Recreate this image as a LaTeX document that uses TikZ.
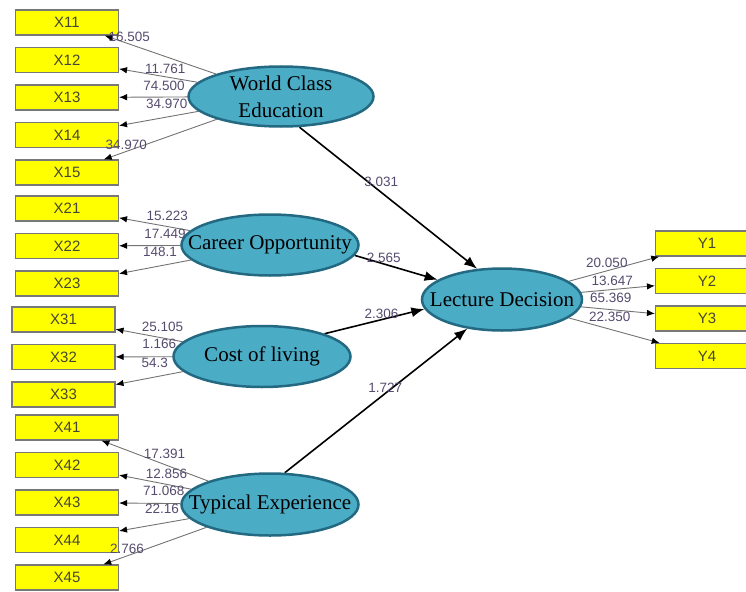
\documentclass[tikz,border=0pt]{standalone}
\usepackage{fontspec}
\setmainfont{Liberation Serif}
\newfontfamily\boxfont{Liberation Sans}
\usetikzlibrary{arrows.meta,positioning,shapes.geometric,backgrounds}

\definecolor{latentfill}{RGB}{75,172,198}
\definecolor{latentdraw}{RGB}{35,105,130}
\definecolor{itemfill}{RGB}{255,255,0}
\definecolor{itemdraw}{RGB}{120,120,120}
\definecolor{itemtext}{RGB}{70,70,55}
\definecolor{linkgray}{RGB}{115,115,115}
\definecolor{valtext}{RGB}{85,75,110}

\begin{document}
\begin{tikzpicture}[x=1pt,y=-1pt,>={Latex[length=8pt,width=6.5pt,black]},node distance=37.5pt,
item/.style={rectangle,draw=itemdraw,line width=1.1pt,fill=itemfill,minimum width=103pt,minimum height=25pt,inner sep=0pt,font=\boxfont\fontsize{15}{17}\selectfont,text=itemtext},
latent/.style={ellipse,draw=latentdraw,line width=2.5pt,fill=latentfill,inner xsep=-40pt,inner ysep=-3pt,minimum width=177pt,minimum height=61pt,font=\fontsize{21}{27}\selectfont,align=center},
outer/.style={->,draw=linkgray,line width=0.9pt},
inner/.style={->,>={Latex[length=13pt,width=10pt]},line width=1.6pt},
val/.style={font=\boxfont\fontsize{13.5}{15}\selectfont,text=valtext,inner sep=0pt}]

\useasboundingbox (0,0) rectangle (746,591);
\clip (0,0) rectangle (746,591);

\node[latent,minimum width=185pt,minimum height=60pt] (wce) at (281,96.5) {World Class\\Education};
\node[latent] (co) at (270,245) {Career Opportunity};
\node[latent] (col) at (262,356.5) {Cost of living};
\node[latent,minimum height=62pt] (te) at (270,504.5) {Typical Experience};
\node[latent,minimum width=160pt,minimum height=62pt] (ld) at (502,299.5) {Lecture Decision};

\begin{pgfonlayer}{background}
\node[item] (x11) at (67,22.5) {X11};
 \node[item] (x12) [below of=x11] {X12};
 \node[item] (x13) [below of=x12] {X13};
 \node[item] (x14) [below of=x13] {X14};
 \node[item] (x15) [below of=x14] {X15};

\node[item] (x21) at (67,208.5) {X21};
 \node[item] (x22) [below of=x21] {X22};
 \node[item] (x23) [below of=x22] {X23};

\node[item] (x31) at (63.5,319.5) {X31};
 \node[item] (x32) [below of=x31] {X32};
 \node[item] (x33) [below of=x32] {X33};

\node[item] (x41) at (67,427.5) {X41};
 \node[item] (x42) [below of=x41] {X42};
 \node[item] (x43) [below of=x42] {X43};
 \node[item] (x44) [below of=x43] {X44};
 \node[item] (x45) [below of=x44] {X45};

\node[item] (y1) at (707,243.5) {Y1};
 \node[item] (y2) [below of=y1] {Y2};
 \node[item] (y3) [below of=y2] {Y3};
 \node[item] (y4) [below of=y3] {Y4};

\path[outer] (wce) edge node[val,pos=.78,yshift=7pt] {16.505} (x11)
      (wce) edge node[val,pos=.41,yshift=7.5pt] {11.761} (x12)
      (wce) edge node[val,pos=.34,yshift=11.5pt] {74.500} (x13)
      (wce) edge node[val,pos=.40,yshift=13pt] {34.970} (x14)
      (wce) edge node[val,pos=.80,yshift=6.5pt] {34.970} (x15)

      (co) edge node[val,pos=.32,yshift=10.5pt] {15.223} (x21)
      (co) edge node[val,pos=.25,yshift=12pt] {17.449} (x22)
      (co) edge node[val,pos=.43,yshift=14pt] {148.1} (x23)

      (col) edge node[val,pos=.30,yshift=11pt] {25.105} (x31)
      (col) edge node[val,pos=.23,yshift=12.5pt] {1.166} (x32)
      (col) edge node[val,pos=.42,yshift=14pt] {54.3} (x33)

      (te) edge node[val,pos=.41,yshift=11pt] {17.391} (x41)
      (te) edge node[val,pos=.34,yshift=11pt] {12.856} (x42)
      (te) edge node[val,pos=.27,yshift=12.5pt] {71.068} (x43)
      (te) edge node[val,pos=.39,yshift=14.5pt] {22.16} (x44)
      (te) edge node[val,pos=.77,yshift=7.5pt] {2.766} (x45)

      (ld) edge node[val,pos=.42,yshift=8.5pt] {20.050} (y1)
      (ld) edge node[val,pos=.42,yshift=8.5pt] {13.647} (y2)
      (ld) edge node[val,pos=.40,yshift=12pt] {65.369} (y3)
      (ld) edge node[val,pos=.45,yshift=12pt] {22.350} (y4);

\path[inner] (wce.-59) edge node[val,pos=.46,yshift=10pt] {3.031} (ld.129)
      (co.-7) edge node[val,pos=.35,yshift=6.5pt] {2.565} (ld.163)
      (col.20) edge node[val,pos=.57,yshift=6pt] {2.306} (ld.187)
      (te.65) edge node[val,pos=.55,yshift=6pt] {1.727} (ld.220);
\end{pgfonlayer}
\end{tikzpicture}
\end{document}
